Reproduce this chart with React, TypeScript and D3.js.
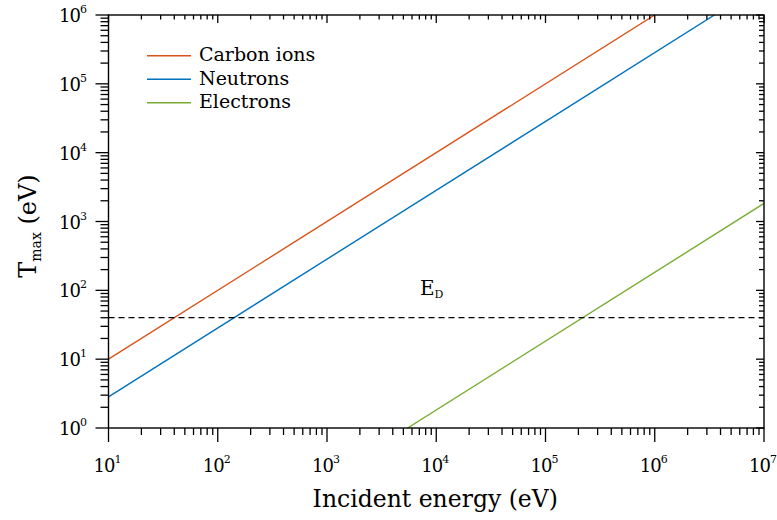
import React from "react";
import * as d3 from "d3";

// Incident energy (eV) and maximum transferred energy (eV): straight lines on log-log axes
const carbonE = [10, 1e6];
const carbonT = [10, 1e6];
const neutronE = [10, 3.52e6];
const neutronT = [2.84, 1e6];
const electronE = [5469, 1e7];
const electronT = [1, 1829];

const seriesNames = ["Carbon ions", "Neutrons", "Electrons"];
const seriesColors = ["#D95319", "#0072BD", "#77AC30"];

const displacementEnergy = 40;
const edLabelE = 7100;
const edLabelT = 85;

const xDecades = [1, 2, 3, 4, 5, 6, 7];
const yDecades = [0, 1, 2, 3, 4, 5, 6];

const W = 777;
const H = 520;
const left = 108.5;
const right = 764;
const top = 15;
const bottom = 428;

const FONT = '"DejaVu Serif", serif';

// "10" with a raised exponent
function Pow10({ x, y, p, anchor }: { x: number; y: number; p: number; anchor: "start" | "end" }) {
  return (
    <text x={x} y={y} fontSize={18} textAnchor={anchor} style={{ fontFamily: FONT }}>
      <tspan letterSpacing={-1}>10</tspan>
      <tspan fontSize={11} dy={-9}>{p}</tspan>
    </text>
  );
}

export default function App() {
  const x = d3.scaleLog().domain([1e1, 1e7]).range([left, right]);
  const y = d3.scaleLog().domain([1e0, 1e6]).range([bottom, top]);
  const line = d3
    .line<[number, number]>()
    .x((d) => x(d[0]))
    .y((d) => y(d[1]));

  const series = [
    { e: carbonE, t: carbonT },
    { e: neutronE, t: neutronT },
    { e: electronE, t: electronT },
  ];

  const xMinor: number[] = [];
  for (let p = 1; p < 7; p++) for (let m = 2; m <= 9; m++) xMinor.push(m * Math.pow(10, p));
  const yMinor: number[] = [];
  for (let p = 0; p < 6; p++) for (let m = 2; m <= 9; m++) yMinor.push(m * Math.pow(10, p));

  const tick = { stroke: "#000", strokeWidth: 1.3 };

  return (
    <svg width={W} height={H} style={{ position: "absolute", left: 0, top: 0, fontFamily: FONT }}>
      <rect width={W} height={H} fill="#fff" />
      <defs>
        <clipPath id="plotArea">
          <rect x={left} y={top} width={right - left} height={bottom - top} />
        </clipPath>
      </defs>

      {/* data lines */}
      <g clipPath="url(#plotArea)">
        {series.map((s, i) => (
          <path
            key={i}
            d={line(s.e.map((v, j) => [v, s.t[j]] as [number, number])) || ""}
            fill="none"
            stroke={seriesColors[i]}
            strokeWidth={1.4}
          />
        ))}
        <line
          x1={left}
          x2={right}
          y1={y(displacementEnergy)}
          y2={y(displacementEnergy)}
          stroke="#000"
          strokeWidth={1.2}
          strokeDasharray="6 4"
        />
      </g>

      {/* E_D label */}
      <text x={x(edLabelE)} y={y(edLabelT)} fontSize={20} style={{ fontFamily: FONT }}>
        E<tspan fontSize={11} dy={3}>D</tspan>
      </text>

      {/* minor ticks */}
      {xMinor.map((v) => (
        <g key={"xm" + v}>
          <line x1={x(v)} x2={x(v)} y1={bottom} y2={bottom + 7} {...tick} />
          <line x1={x(v)} x2={x(v)} y1={top} y2={top + 4.5} {...tick} />
        </g>
      ))}
      {yMinor.map((v) => (
        <g key={"ym" + v}>
          <line x1={left - 8} x2={left} y1={y(v)} y2={y(v)} {...tick} />
          <line x1={right - 5} x2={right} y1={y(v)} y2={y(v)} {...tick} />
        </g>
      ))}

      {/* major ticks and labels */}
      {xDecades.map((p) => {
        const px = x(Math.pow(10, p));
        return (
          <g key={"xM" + p}>
            <line x1={px} x2={px} y1={bottom} y2={bottom + 14} {...tick} />
            <line x1={px} x2={px} y1={top} y2={top + 8} {...tick} />
            <Pow10 x={px - 15} y={472} p={p} anchor="start" />
          </g>
        );
      })}
      {yDecades.map((p) => {
        const py = y(Math.pow(10, p));
        return (
          <g key={"yM" + p}>
            <line x1={left - 13} x2={left} y1={py} y2={py} {...tick} />
            <line x1={right - 8} x2={right} y1={py} y2={py} {...tick} />
            <Pow10 x={87} y={py + 7} p={p} anchor="end" />
          </g>
        );
      })}

      {/* frame */}
      <rect x={left} y={top} width={right - left} height={bottom - top} fill="none" stroke="#000" strokeWidth={1.4} />

      {/* legend */}
      {seriesNames.map((name, i) => {
        const ly = 55.7 + i * 23.5;
        return (
          <g key={name}>
            <line x1={147} x2={191} y1={ly} y2={ly} stroke={seriesColors[i]} strokeWidth={1.4} />
            <text x={199} y={ly + 5.5} fontSize={19} style={{ fontFamily: FONT }}>
              {name}
            </text>
          </g>
        );
      })}

      {/* axis titles */}
      <text x={(left + right) / 2 - 1} y={507} fontSize={23.5} textAnchor="middle" style={{ fontFamily: FONT }}>
        Incident energy (eV)
      </text>
      <text transform="translate(36,226) rotate(-90)" fontSize={24} textAnchor="middle" style={{ fontFamily: FONT }}>
        T<tspan fontSize={14} dy={5}>max</tspan>
        <tspan dy={-5}> (eV)</tspan>
      </text>
    </svg>
  );
}
